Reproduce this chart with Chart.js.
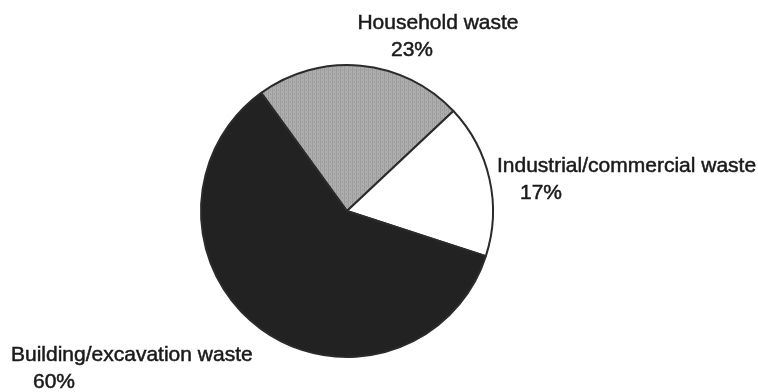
<!DOCTYPE html>
<html>
<head>
<meta charset="utf-8">
<script src="https://cdn.jsdelivr.net/npm/chart.js@4.4.1/dist/chart.umd.min.js"></script>
<style>
  html, body { margin: 0; padding: 0; background: #fff; }
  #wasteChart { display: block; }
</style>
</head>
<body>
<canvas id="wasteChart" width="758" height="392"></canvas>
<script>
// ---------------- Data ----------------------------------------------------
const categories = [ 'Household waste', 'Industrial/commercial waste', 'Building/excavation waste' ] ;
const shares     = [ 23, 17, 60 ] ;

// ---------------- Styling -------------------------------------------------
const TEXT_COLOR = '#1a1a1a' ;
const LABEL_FONT = '21px "Liberation Sans", Arial, sans-serif' ;

// where each label block sits: first baseline, alignment, x of the percentage
const labelLayout = [
    { x: 438, y: 29,  align: 'center', pctX: 412, pctAlign: 'center' },
    { x: 497, y: 172, align: 'left',   pctX: 520, pctAlign: 'left'   },
    { x: 11,  y: 361, align: 'left',   pctX: 33,  pctAlign: 'left'   }
] ;

function stipple() {
    var c = document.createElement( 'canvas' ) ;
    c.width = 4 ; c.height = 4 ;
    var g = c.getContext( '2d' ) ;
    g.fillStyle = '#adadad' ;
    g.fillRect( 0, 0, 4, 4 ) ;
    g.fillStyle = '#9d9d9d' ;
    g.fillRect( 0, 0, 1, 4 ) ;
    g.fillRect( 2, 1, 1, 2 ) ;
    return g.createPattern( c, 'repeat' ) ;
}

const sliceLabels = {
    id: 'sliceLabels',
    afterDraw: function( chart ) {
        var ctx = chart.ctx ;
        ctx.save() ;
        ctx.font = LABEL_FONT ;
        ctx.fillStyle = TEXT_COLOR ;
        ctx.strokeStyle = TEXT_COLOR ;
        ctx.lineWidth = 0.5 ;
        ctx.textBaseline = 'alphabetic' ;
        for( var i = 0; i < categories.length; i++ ) {
            var l = labelLayout[i] ;
            var pct = shares[i] + '%' ;
            ctx.textAlign = l.align ;
            ctx.fillText( categories[i], l.x, l.y ) ;
            ctx.strokeText( categories[i], l.x, l.y ) ;
            ctx.textAlign = l.pctAlign ;
            ctx.fillText( pct, l.pctX, l.y + 27 ) ;
            ctx.strokeText( pct, l.pctX, l.y + 27 ) ;
        }
        ctx.restore() ;
    }
} ;

new Chart( document.getElementById( 'wasteChart' ), {
    type: 'pie',
    data: {
        labels: categories,
        datasets: [ {
            data: shares,
            backgroundColor: [ stipple(), '#ffffff', '#222222' ],
            borderColor: '#2b2b2b',
            borderWidth: 2
        } ]
    },
    options: {
        responsive: false,
        animation: false,
        rotation: -36,
        layout: { padding: { left: 200, right: 264, top: 64, bottom: 34 } },
        plugins: {
            legend: { display: false },
            tooltip: { enabled: false }
        }
    },
    plugins: [ sliceLabels ]
} ) ;
</script>
</body>
</html>
